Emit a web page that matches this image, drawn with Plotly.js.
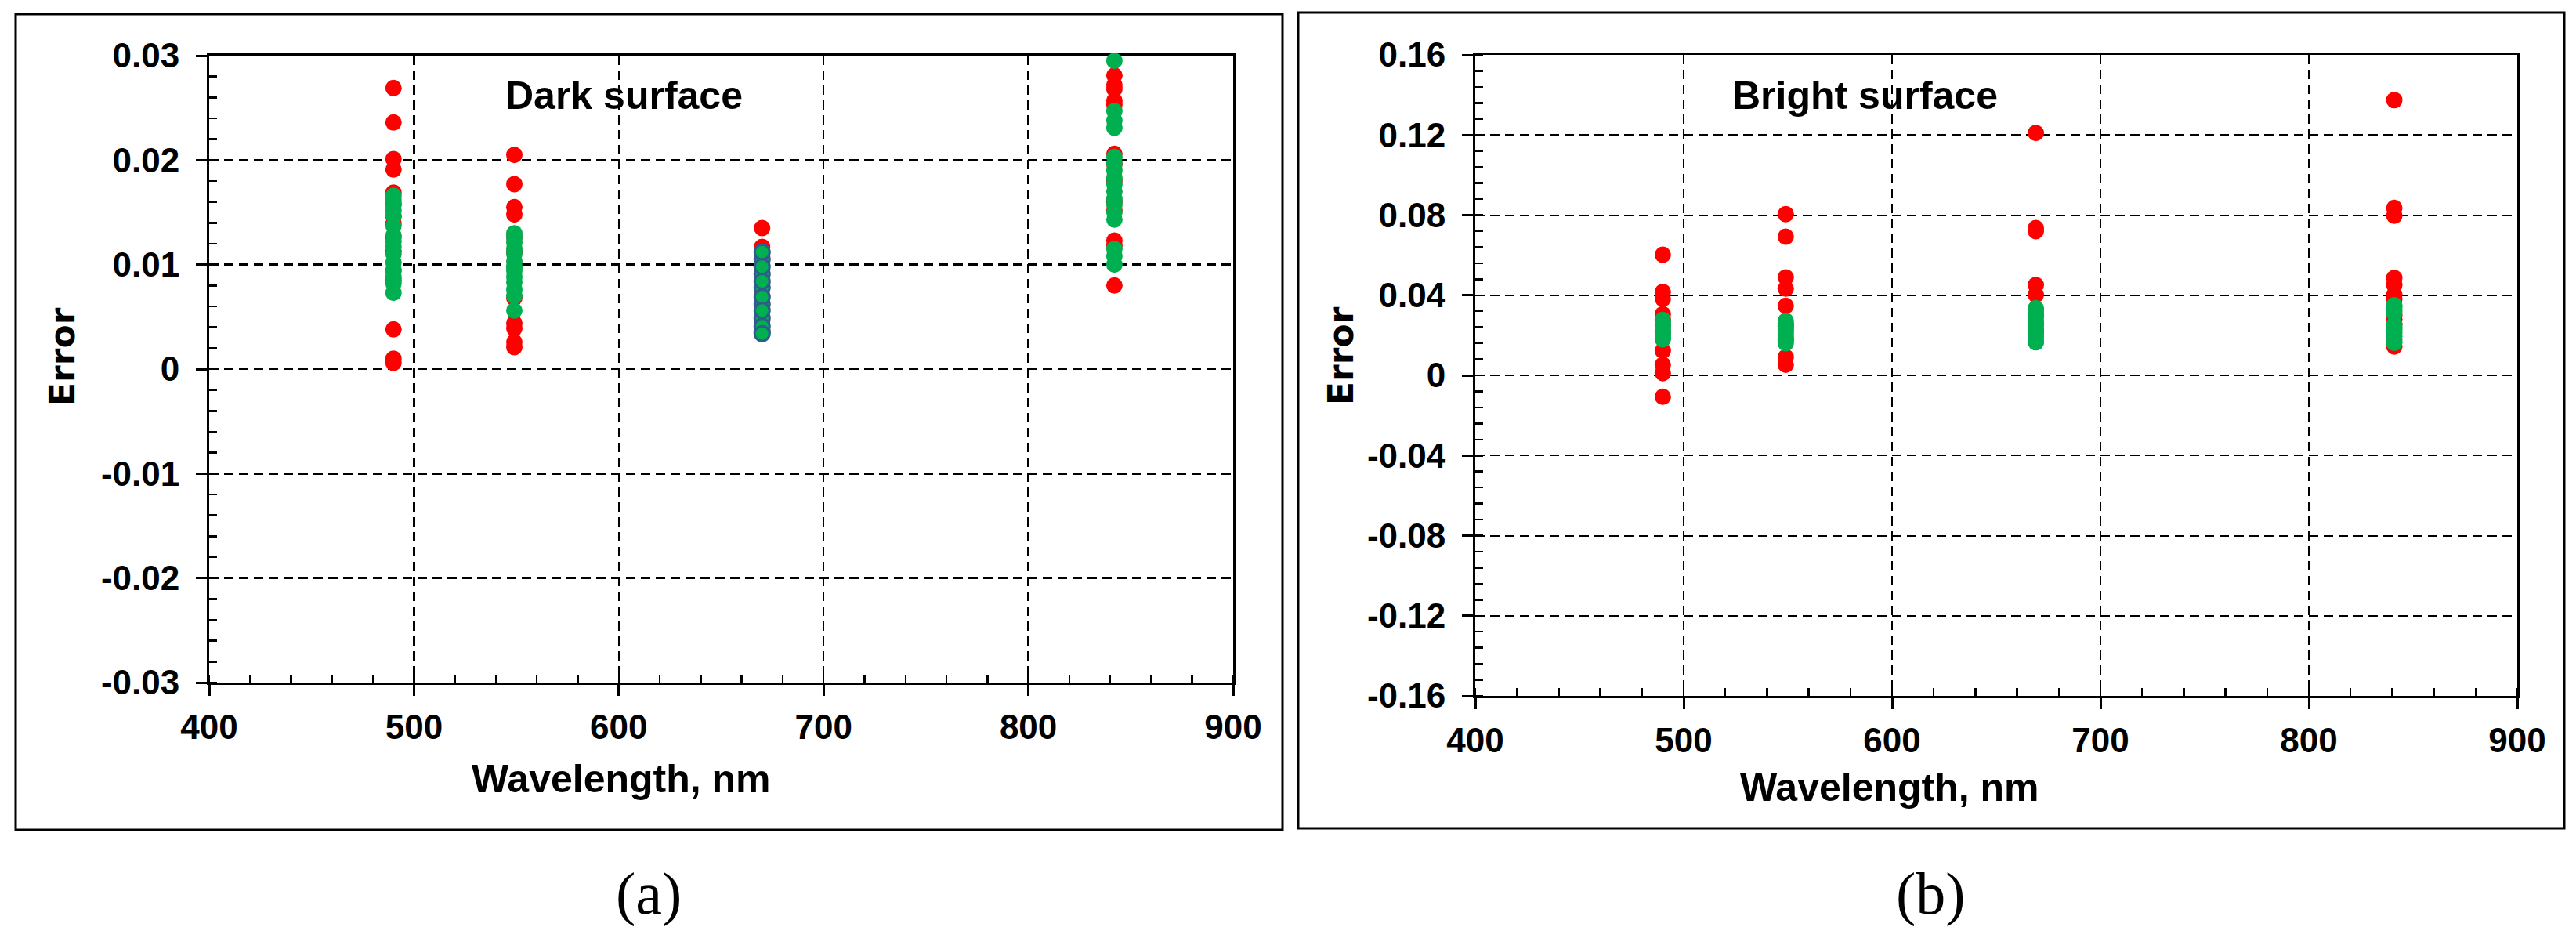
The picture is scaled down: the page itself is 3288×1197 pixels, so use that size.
<!DOCTYPE html>
<html>
<head>
<meta charset="utf-8">
<script src="https://cdn.plot.ly/plotly-3.0.1.min.js"></script>
<style>
  html, body { margin: 0; padding: 0; background: #fff; }
  #plot { width: 3288px; height: 1197px; }
</style>
</head>
<body>
<div id="plot"></div>
<script>
// Wavelength of each column of points
const bandsDark = [490, 549, 670, 842];
const bandsBright = [490, 549, 669, 841];

// (a) Dark surface – errors per band
const darkRed = [
  [0.0269, 0.0236, 0.0201, 0.0191, 0.0169, 0.0158, 0.0146, 0.0139, 0.0126, 0.0113, 0.0094, 0.0085, 0.0038, 0.0010, 0.0006],
  [0.0205, 0.0177, 0.0155, 0.0148, 0.0126, 0.0112, 0.0098, 0.0068, 0.0044, 0.0039, 0.0026, 0.0021],
  [0.0135, 0.0117, 0.0108, 0.0095, 0.0082, 0.0070, 0.0058, 0.0046],
  [0.0281, 0.0272, 0.0268, 0.0257, 0.0253, 0.0206, 0.0196, 0.0180, 0.0160, 0.0152, 0.0123, 0.0118, 0.0080]
];
const darkGreen = [
  [0.0166, 0.0162, 0.0157, 0.0152, 0.0147, 0.0137, 0.0128, 0.0122, 0.0117, 0.0110, 0.0102, 0.0095, 0.0088, 0.0082, 0.0073],
  [0.0130, 0.0126, 0.0121, 0.0115, 0.0110, 0.0103, 0.0098, 0.0094, 0.0088, 0.0083, 0.0076, 0.0070, 0.0056],
  [],
  [0.0295, 0.0247, 0.0238, 0.0231, 0.0203, 0.0197, 0.0190, 0.0183, 0.0177, 0.0170, 0.0163, 0.0157, 0.0150, 0.0143, 0.0115, 0.0108, 0.0100]
];
// green points with blue rim, 670 nm only
const darkRimmed = [0.0105, 0.0091, 0.0078, 0.0062, 0.0049, 0.0036, 0.0112, 0.0098, 0.0084, 0.0069, 0.0056, 0.0041, 0.0034];

// (b) Bright surface – errors per band
const brightRed = [
  [0.0602, 0.0417, 0.0382, 0.0305, 0.0280, 0.0250, 0.0215, 0.0123, 0.0053, 0.0011, -0.0107],
  [0.0805, 0.0692, 0.0489, 0.0433, 0.0347, 0.0250, 0.0180, 0.0091, 0.0053],
  [0.1210, 0.0735, 0.0720, 0.0451, 0.0403, 0.0300, 0.0260, 0.0220, 0.0170],
  [0.1374, 0.0836, 0.0797, 0.0486, 0.0451, 0.0403, 0.0380, 0.0300, 0.0280, 0.0255, 0.0144]
];
const brightGreen = [
  [0.0277, 0.0262, 0.0250, 0.0238, 0.0225, 0.0212, 0.0200, 0.0188, 0.0180],
  [0.0272, 0.0260, 0.0245, 0.0232, 0.0220, 0.0205, 0.0190, 0.0175, 0.0160],
  [0.0335, 0.0322, 0.0305, 0.0290, 0.0270, 0.0250, 0.0232, 0.0212, 0.0195, 0.0180, 0.0165],
  [0.0350, 0.0340, 0.0325, 0.0310, 0.0255, 0.0240, 0.0228, 0.0212, 0.0195, 0.0178, 0.0162]
];

// Ticks
const xTicks = [400, 500, 600, 700, 800, 900];
const xTickText = ["400", "500", "600", "700", "800", "900"];
const yTicksA = [-0.03, -0.02, -0.01, 0, 0.01, 0.02, 0.03];
const yTickTextA = ["-0.03", "-0.02", "-0.01", "0", "0.01", "0.02", "0.03"];
const yTicksB = [-0.16, -0.12, -0.08, -0.04, 0, 0.04, 0.08, 0.12, 0.16];
const yTickTextB = ["-0.16", "-0.12", "-0.08", "-0.04", "0", "0.04", "0.08", "0.12", "0.16"];

const FONT = '"Liberation Sans Narrow", "Arial Narrow", "Liberation Sans", sans-serif';
const RED = "#ff0000";
const GREEN = "#00b050";
const BLUE = "#2e5d8b";
const W = 3288, H = 1197;

// flatten the columns into x / y lists
function points(bands, cols) {
  const x = [], y = [];
  cols.forEach((col, i) => col.forEach((v) => { x.push(bands[i]); y.push(v); }));
  return { x, y };
}

function dots(bands, cols, color, xa, ya) {
  const p = points(bands, cols);
  return {
    x: p.x, y: p.y, xaxis: xa, yaxis: ya,
    mode: "markers", type: "scatter", cliponaxis: false, hoverinfo: "skip",
    marker: { symbol: "circle", size: 21, color: color, line: { width: 0 } },
  };
}

const traces = [
  dots(bandsDark, darkRed, RED, "x", "y"),
  dots(bandsDark, darkGreen, GREEN, "x", "y"),
  {
    x: darkRimmed.map(() => bandsDark[2]), y: darkRimmed, xaxis: "x", yaxis: "y",
    mode: "markers", type: "scatter", cliponaxis: false, hoverinfo: "skip",
    marker: { symbol: "circle", size: 19, color: GREEN, line: { width: 3, color: BLUE } },
  },
  dots(bandsBright, brightRed, RED, "x2", "y2"),
  dots(bandsBright, brightGreen, GREEN, "x2", "y2"),
];

function xAxis(domain, anchor, gw) {
  return {
    domain: domain, anchor: anchor, range: [400, 900],
    tickmode: "array", tickvals: xTicks, ticktext: xTickText,
    ticks: "outside", ticklen: 14, tickwidth: 3, tickcolor: "#000",
    ticklabelstandoff: 2,
    minor: { ticks: "inside", ticklen: 10, tickwidth: 2.5, tickcolor: "#000", tick0: 400, dtick: 20, showgrid: false },
    showline: true, linewidth: 3, linecolor: "#000", mirror: true,
    showgrid: true, gridcolor: "#000", gridwidth: gw, griddash: "12px,7px",
    zeroline: false, layer: "below traces", fixedrange: true,
    tickfont: { family: FONT, size: 44, color: "#000", weight: "bold" },
  };
}

function yAxis(domain, anchor, vals, text, minorStep, gw) {
  return {
    domain: domain, anchor: anchor, range: [vals[0], vals[vals.length - 1]],
    tickmode: "array", tickvals: vals, ticktext: text,
    ticks: "outside", ticklen: 14, tickwidth: 3, tickcolor: "#000",
    ticklabelstandoff: 12,
    minor: { ticks: "inside", ticklen: 10, tickwidth: 2.5, tickcolor: "#000", tick0: 0, dtick: minorStep, showgrid: false },
    showline: true, linewidth: 3, linecolor: "#000", mirror: true,
    showgrid: true, gridcolor: "#000", gridwidth: gw, griddash: "12px,7px",
    zeroline: false, layer: "below traces", fixedrange: true,
    tickfont: { family: FONT, size: 44, color: "#000", weight: "bold" },
  };
}

function label(text, px, py, size, extra) {
  return Object.assign({
    text: text, xref: "paper", yref: "paper", x: px / W, y: 1 - py / H,
    xanchor: "center", yanchor: "middle", showarrow: false,
    font: { family: FONT, size: size, color: "#000", weight: "bold" },
  }, extra || {});
}

const errFont = { family: "DejaVu Sans", size: 44, color: "#000", weight: "bold" };
const capFont = { family: "Liberation Serif", size: 76, color: "#000" };

const layout = {
  width: W, height: H,
  margin: { l: 0, r: 0, t: 0, b: 0 },
  paper_bgcolor: "#fff", plot_bgcolor: "#fff",
  showlegend: false,
  xaxis: xAxis([267 / W, 1574 / W], "y", 2.5),
  yaxis: yAxis([1 - 871 / H, 1 - 71 / H], "x", yTicksA, yTickTextA, 0.002, 2.5),
  xaxis2: xAxis([1883 / W, 3213 / W], "y2", 2),
  yaxis2: yAxis([1 - 888 / H, 1 - 70 / H], "x2", yTicksB, yTickTextB, 0.008, 2),
  shapes: [
    { type: "rect", xref: "paper", yref: "paper", x0: 20 / W, x1: 1637 / W, y0: 1 - 1059 / H, y1: 1 - 18 / H, line: { color: "#000", width: 3 } },
    { type: "rect", xref: "paper", yref: "paper", x0: 1657 / W, x1: 3273 / W, y0: 1 - 1057 / H, y1: 1 - 16 / H, line: { color: "#000", width: 3 } },
  ],
  annotations: [
    label("Dark surface", 796, 122, 50),
    label("Bright surface", 2380, 122, 50),
    label("Wavelength, nm", 793, 994, 50),
    label("Wavelength, nm", 2412, 1005, 50),
    label("Error", 80, 455, 44, { textangle: -90, font: errFont }),
    label("Error", 1711, 454, 44, { textangle: -90, font: errFont }),
    label("(a)", 828, 1140, 76, { font: capFont }),
    label("(b)", 2464, 1140, 76, { font: capFont }),
  ],
};

Plotly.newPlot("plot", traces, layout, { staticPlot: true, displayModeBar: false });
</script>
</body>
</html>
